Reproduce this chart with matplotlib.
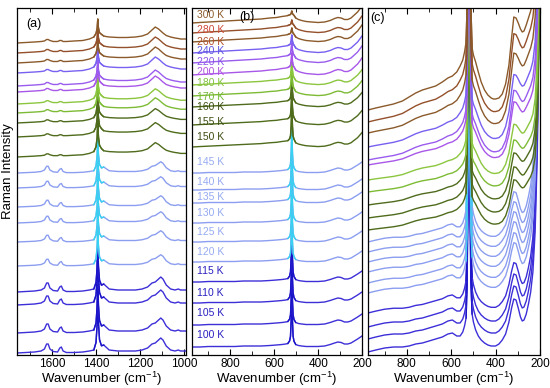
import numpy as np
import matplotlib
matplotlib.use("Agg")  # no display
import matplotlib.pyplot as plt
from matplotlib.ticker import MultipleLocator

plt.rcParams["font.family"] = ["Liberation Sans", "DejaVu Sans"]
plt.rcParams["mathtext.default"] = "regular"

# temperatures, top trace first
temps = [300, 280, 260, 240, 220, 200, 180, 170, 160, 155, 150,
         145, 140, 135, 130, 125, 120, 115, 110, 105, 100]
N_HI = 11  # 300..150 K use the "hi" shape, 145..100 K the "lo" shape

line_colors = ["#8B5A2B", "#93502A", "#8B5A2B", "#7860F0", "#9A5CEE", "#A857E8",
               "#8CC63F", "#7DBB35", "#4F6B1C", "#4F6B1C", "#4F6B1C",
               "#8C9EF0", "#8C9EF0", "#8C9EF0", "#8C9EF0", "#8C9EF0", "#8C9EF0",
               "#3C2FD8", "#3C2FD8", "#3C2FD8", "#3C2FD8"]
peak_colors = ["#8B5A2B", "#93502A", "#8B5A2B", "#7860F0", "#9A5CEE", "#A857E8",
               "#8CC63F", "#7DBB35", "#4F6B1C", "#4F6B1C", "#4F6B1C",
               "#36D2F2", "#36D2F2", "#36D2F2", "#36D2F2", "#36D2F2", "#36D2F2",
               "#1A14C8", "#1A14C8", "#1A14C8", "#1A14C8"]
label_colors = ["#8B5A2B", "#D04A3A", "#B0502A", "#5B55E0", "#8A55E6", "#B050E0",
                "#84C240", "#74B83A", "#3D4D12", "#3D4D12", "#3D4D12",
                "#96AAF2", "#96AAF2", "#96AAF2", "#96AAF2", "#96AAF2", "#96AAF2",
                "#2A20C0", "#2A20C0", "#2A20C0", "#2A20C0"]

# ---------- panel (a): 1760-990 cm-1 ----------
a_wn = [1760, 1720, 1680, 1650, 1635, 1625, 1618, 1610, 1595, 1575,
        1565, 1558, 1550, 1535, 1500, 1460, 1430, 1410, 1400, 1395,
        1392, 1389, 1384, 1375, 1365, 1355, 1340, 1300, 1260, 1220,
        1190, 1165, 1145, 1130, 1115, 1105, 1095, 1080, 1060, 1040,
        1025, 1015, 1000, 990]
a_feat_hi = [0, 0.5, 1, 1.5, 2, 3.5, 3.5, 2.5, 1.5, 1.5,
             2.5, 2.5, 1.5, 1.5, 2, 2.5, 4, 6, 8, 8,
             8, 8, 8, 8, 7, 6.5, 6, 5.5, 5.5, 6,
             7, 9, 13, 16, 14, 12, 10, 7.5, 6, 5,
             4.5, 4, 4, 4]
a_feat_lo = [0, 0.5, 1, 2, 4, 9, 9, 4, 1.5, 1,
             5, 6, 2, 0.5, 0.5, 1, 2, 3, 5, 6,
             6, 6, 5, 5, 8, 6, 3, 2, 2, 2,
             3, 5, 9, 10, 13, 15, 13, 7, 3, 2,
             3, 2, 2, 2]
a_peak = [0, 0, 0, 0, 0, 0, 0, 0, 0, 0,
          0, 0, 0, 0, 0, 0, 0, 0, 0.1, 0.4,
          1, 0.45, 0.15, 0.04, 0, 0, 0, 0, 0, 0,
          0, 0, 0, 0, 0, 0, 0, 0, 0, 0,
          0, 0, 0, 0]
a_base = [312, 302, 292, 282, 269, 263, 251, 242, 232, 218, 198,
          182, 167, 148, 132, 113, 89, 63, 50, 22, 2]
a_scale = [1, 1, 1, 1, 1, 1, 0.95, 0.95, 0.9, 0.9, 0.9,
           0.75, 0.75, 0.75, 0.75, 0.75, 0.75, 1, 1, 1, 1]
a_height = [16, 16, 16, 18, 18, 20, 22, 22, 25, 28, 30,
            32, 32, 32, 32, 32, 35, 45, 50, 50, 55]

# ---------- panel (b): 975-200 cm-1 ----------
b_wn = [975, 940, 900, 860, 820, 780, 740, 700, 660, 620,
        590, 565, 548, 538, 530, 526, 523, 520, 517, 514,
        510, 502, 490, 475, 455, 430, 400, 370, 345, 325,
        310, 295, 280, 265, 250, 235, 220, 210, 200]
b_feat_hi = [0, 0.5, 1, 1.5, 2, 2.5, 3, 3.5, 4, 5,
             5.5, 6.5, 7, 7.5, 8, 8, 8, 8, 8, 8,
             7.5, 5, 3.5, 2.5, 1.5, 1, 0.5, 1, 2.5, 4.5,
             5.5, 5, 3.5, 3.5, 5, 8, 11, 14, 17]
b_feat_lo = [0, 0, 0.5, 0.5, 0.5, 0.5, 1, 1, 1, 1.5,
             2, 2.5, 3, 3.5, 4, 4, 4, 4, 4, 4,
             3.5, 2.5, 1.5, 1, 0.5, 0.5, 0.5, 1, 2.5, 4,
             5, 4.5, 3, 3, 4, 6, 8, 9.5, 11]
b_peak = [0, 0, 0, 0, 0, 0, 0, 0, 0, 0,
          0, 0, 0, 0, 0.04, 0.12, 0.4, 1, 0.4, 0.12,
          0.04, 0, 0, 0, 0, 0, 0, 0, 0, 0,
          0, 0, 0, 0, 0, 0, 0, 0, 0]
b_base = [332, 322, 313, 302, 292, 280, 270, 259, 248, 230, 208,
          182, 165, 152, 132, 113, 93, 73, 52, 30, 8]
b_scale = [1, 1, 1, 1, 1, 1, 0.9, 0.9, 0.85, 0.85, 0.85,
           1, 1, 1, 1, 1, 1, 1, 1, 1, 1]
b_height = [4, 5, 6, 10, 12, 14, 18, 20, 22, 28, 35,
            40, 40, 40, 40, 40, 40, 50, 50, 50, 55]
b_label_y = [340, 325, 313, 304, 293, 283, 272, 258, 248, 233, 218,
             193, 173, 158, 142, 123, 103, 84, 62, 42, 20]

# ---------- panel (c): 975-200 cm-1, expanded ----------
c_wn = [975, 940, 900, 860, 820, 790, 760, 730, 700, 670,
        640, 615, 595, 575, 560, 548, 540, 533, 528, 524,
        520, 516, 512, 506, 500, 490, 478, 465, 450, 435,
        420, 410, 400, 385, 370, 355, 340, 328, 318, 308,
        298, 288, 280, 272, 262, 252, 242, 232, 222, 212, 200]
c_feat_hi = [0, 2, 4, 6, 9, 13, 17, 20, 22, 24,
             28, 32, 34, 38, 44, 50, 58, 68, 78, 84,
             86, 84, 78, 62, 55, 48, 38, 28, 20, 15,
             12, 11, 11, 12, 16, 26, 45, 72, 93, 92,
             87, 81, 78, 79, 85, 92, 99, 110, 135, 200, 420]
c_feat_lo = [0, 2, 4, 5, 5, 6, 8, 9, 11, 13,
             15, 18, 19, 16, 16, 20, 26, 34, 42, 48,
             50, 48, 44, 38, 30, 22, 16, 12, 9, 7,
             6, 6, 6, 8, 12, 18, 30, 44, 53, 52,
             44, 35, 31, 32, 38, 48, 60, 80, 120, 200, 420]
c_peak = [0, 0, 0, 0, 0, 0, 0, 0, 0, 0,
          0, 0, 0, 0, 0, 0, 0, 0, 0.05, 0.25,
          1, 0.25, 0.05, 0, 0, 0, 0, 0, 0, 0,
          0, 0, 0, 0, 0, 0, 0, 0, 0, 0,
          0, 0, 0, 0, 0, 0, 0, 0, 0, 0, 0]
c_base = [245, 233, 222, 208, 195, 190, 175, 163, 150, 137, 125,
          113, 103, 93, 83, 72, 62, 42, 28, 16, 3]
c_scale = [1.0, 0.95, 0.86, 0.78, 0.75, 0.68, 0.6, 0.56, 0.56, 0.55, 0.54,
           0.95, 0.95, 0.95, 0.95, 0.95, 0.95, 0.95, 1.0, 1.0, 1.0]
c_height = [600] * 21

YTOP = 347


def draw_panel(ax, wn, feat_hi, feat_lo, peak, base, scale, height, xlim):
    wn = np.array(wn)
    hi = np.array(feat_hi)
    lo = np.array(feat_lo)
    pk = np.array(peak)
    idx = np.nonzero(pk)[0]
    sl = slice(idx[0] - 1, idx[-1] + 2)
    # low temperatures drawn first, warmer traces on top
    for i in range(len(temps) - 1, -1, -1):
        feat = hi if i < N_HI else lo
        y = base[i] + scale[i] * feat + height[i] * pk
        ax.plot(wn, y, color=line_colors[i], lw=1.0, solid_joinstyle="round")
        ax.plot(wn[sl], y[sl], color=peak_colors[i], lw=1.0)
    ax.set_xlim(*xlim)
    ax.set_ylim(0, YTOP)
    ax.set_yticks([])
    ax.xaxis.set_major_locator(MultipleLocator(200))
    ax.xaxis.set_minor_locator(MultipleLocator(100))
    ax.tick_params(axis="x", which="both", direction="in", top=True,
                   labelsize=8.5, pad=2)
    ax.tick_params(axis="x", which="major", length=4)
    ax.tick_params(axis="x", which="minor", length=3)
    for s in ax.spines.values():
        s.set_linewidth(0.9)
    ax.set_xlabel("Wavenumber (cm$^{-1}$)", fontsize=9.5, labelpad=0)


fig = plt.figure(figsize=(5.5, 3.88), dpi=100)
ax_a = fig.add_axes([17 / 550, 33 / 388, 169 / 550, 347 / 388])
ax_b = fig.add_axes([192 / 550, 33 / 388, 170 / 550, 347 / 388])
ax_c = fig.add_axes([368 / 550, 33 / 388, 172 / 550, 347 / 388])

draw_panel(ax_a, a_wn, a_feat_hi, a_feat_lo, a_peak, a_base, a_scale, a_height, (1760, 990))
draw_panel(ax_b, b_wn, b_feat_hi, b_feat_lo, b_peak, b_base, b_scale, b_height, (975, 200))
draw_panel(ax_c, c_wn, c_feat_hi, c_feat_lo, c_peak, c_base, c_scale, c_height, (975, 200))

ax_a.set_ylabel("Raman Intensity", fontsize=9.5)
ax_a.yaxis.set_label_coords(-0.018, 0.53)

for i, t in enumerate(temps):
    ax_b.text(952, b_label_y[i], f"{t} K", color=label_colors[i], fontsize=7.5,
              ha="left", va="center")

ax_a.text(0.1, 0.955, "(a)", transform=ax_a.transAxes, fontsize=9, ha="center", va="center")
ax_b.text(0.32, 0.975, "(b)", transform=ax_b.transAxes, fontsize=9, ha="center", va="center")
ax_c.text(0.055, 0.97, "(c)", transform=ax_c.transAxes, fontsize=9, ha="center", va="center")

fig.savefig("out.png", dpi=100)
